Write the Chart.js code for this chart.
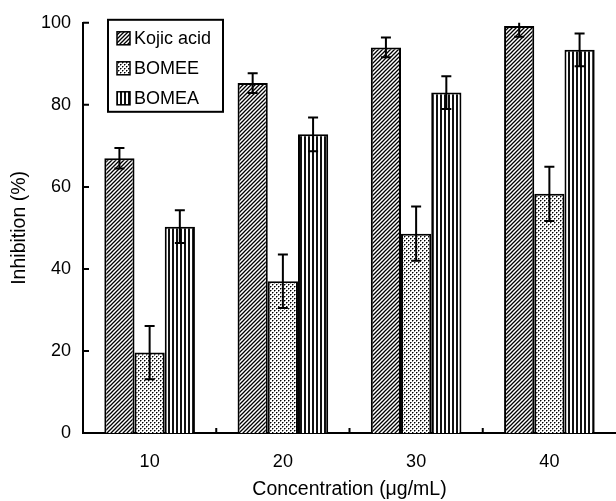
<!DOCTYPE html>
<html>
<head>
<meta charset="utf-8">
<script src="https://cdn.jsdelivr.net/npm/chart.js@4.4.1/dist/chart.umd.min.js"></script>
<style>
  html, body { margin: 0; padding: 0; background: #fff; }
  #wrap { width: 616px; height: 501px; }
</style>
</head>
<body>
<div id="wrap"><canvas id="chart"></canvas></div>
<script>
// data
const categories = ['10', '20', '30', '40'];
const kojic = [67.0, 85.3, 94.0, 99.2];
const kojicErr = [2.5, 2.4, 2.4, 2.6];
const bomee = [19.6, 37.0, 48.6, 58.3];
const bomeeErr = [6.5, 6.5, 6.6, 6.6];
const bomea = [50.3, 72.8, 83.0, 93.4];
const bomeaErr = [4.0, 4.1, 4.0, 4.0];
const yTicks = [0, 20, 40, 60, 80, 100];

Chart.defaults.font.family = '"Liberation Sans", Arial, sans-serif';
Chart.defaults.color = '#000';

// fill patterns
function makePattern(kind) {
  const c = document.createElement('canvas');
  const g = c.getContext('2d');
  if (kind === 'diag') {
    c.width = 4; c.height = 4;
    g.fillStyle = '#fff'; g.fillRect(0, 0, 4, 4);
    g.strokeStyle = '#000'; g.lineWidth = 1.3;
    g.beginPath();
    g.moveTo(0, 4); g.lineTo(4, 0);
    g.moveTo(-1, 1); g.lineTo(1, -1);
    g.moveTo(3, 5); g.lineTo(5, 3);
    g.stroke();
  } else if (kind === 'dots') {
    c.width = 4; c.height = 4;
    g.fillStyle = '#fff'; g.fillRect(0, 0, 4, 4);
    [[0, 0], [2, 2]].forEach(([px, py]) => {
      g.fillStyle = '#000'; g.fillRect(px, py, 1, 1);
      g.fillStyle = '#888'; g.fillRect(px + 1, py, 1, 1); g.fillRect(px, py + 1, 1, 1);
    });
  } else {
    c.width = 4; c.height = 1;
    g.fillStyle = '#fff'; g.fillRect(0, 0, 4, 1);
    g.fillStyle = '#111'; g.fillRect(0, 0, 2, 1);
  }
  return g.createPattern(c, 'repeat');
}

const ctx = document.getElementById('chart').getContext('2d');
const patterns = [makePattern('diag'), makePattern('dots'), makePattern('vert')];
const errors = [kojicErr, bomeeErr, bomeaErr];

// error bars on top of each bar
const errorBars = {
  id: 'errorBars',
  afterDatasetsDraw(chart) {
    const y = chart.scales.y;
    const c = chart.ctx;
    c.save();
    c.strokeStyle = '#000';
    c.lineWidth = 2;
    chart.data.datasets.forEach((ds, i) => {
      chart.getDatasetMeta(i).data.forEach((bar, j) => {
        const v = ds.data[j], e = errors[i][j];
        const hi = Math.min(v + e, y.max);
        const yTop = y.getPixelForValue(hi);
        const yBot = y.getPixelForValue(v - e);
        c.beginPath();
        c.moveTo(bar.x, yTop); c.lineTo(bar.x, yBot);
        if (v + e <= y.max) { c.moveTo(bar.x - 5, yTop); c.lineTo(bar.x + 5, yTop); }
        c.moveTo(bar.x - 5, yBot); c.lineTo(bar.x + 5, yBot);
        c.stroke();
      });
    });
    c.restore();
  }
};

// inward tick marks and the boxed legend
const decorations = {
  id: 'decorations',
  afterDraw(chart) {
    const { left, top, bottom } = chart.chartArea;
    const c = chart.ctx;
    const x = chart.scales.x, y = chart.scales.y;
    c.save();
    c.strokeStyle = '#000';
    c.lineWidth = 2;
    c.beginPath();
    yTicks.forEach(t => {
      const py = y.getPixelForValue(t);
      c.moveTo(left, py); c.lineTo(left + 6, py);
    });
    for (let i = 0; i < categories.length - 1; i++) {
      const px = x.getPixelForValue(i + 0.5);
      c.moveTo(px, bottom); c.lineTo(px, bottom - 5);
    }
    c.stroke();

    // legend
    const bx = left + 25, by = top - 3, bw = 115, bh = 92;
    c.fillStyle = '#fff';
    c.fillRect(bx, by, bw, bh);
    c.strokeRect(bx, by, bw, bh);
    c.font = '18px "Liberation Sans", Arial, sans-serif';
    c.textBaseline = 'middle';
    chart.data.datasets.forEach((ds, i) => {
      const cy = by + 18 + i * 30;
      c.fillStyle = patterns[i];
      c.fillRect(bx + 9, cy - 6, 13, 13);
      c.lineWidth = 1.5;
      c.strokeRect(bx + 9, cy - 6, 13, 13);
      c.fillStyle = '#000';
      c.fillText(ds.label, bx + 26, cy + 1);
    });
    c.restore();
  }
};

new Chart(ctx, {
  type: 'bar',
  data: {
    labels: categories,
    datasets: [
      { label: 'Kojic acid', data: kojic, backgroundColor: patterns[0] },
      { label: 'BOMEE', data: bomee, backgroundColor: patterns[1] },
      { label: 'BOMEA', data: bomea, backgroundColor: patterns[2] }
    ].map(d => Object.assign(d, { borderColor: '#000', borderWidth: 2, borderSkipped: 'bottom' }))
  },
  options: {
    responsive: true,
    maintainAspectRatio: false,
    animation: false,
    layout: { padding: { top: 18, left: 0, right: 0, bottom: 0 } },
    datasets: { bar: { categoryPercentage: 0.68, barPercentage: 1.0 } },
    plugins: {
      legend: { display: false },
      tooltip: { enabled: false }
    },
    scales: {
      x: {
        grid: { display: false, drawTicks: false },
        border: { display: true, color: '#000', width: 2 },
        ticks: { font: { size: 18 }, padding: 18 },
        title: { display: true, text: 'Concentration (μg/mL)', font: { size: 19.5 }, padding: { top: 4, bottom: 0 } },
        afterFit(scale) { scale.height = 68; }
      },
      y: {
        min: 0,
        max: 100,
        grid: { display: false, drawTicks: false },
        border: { display: true, color: '#000', width: 2 },
        ticks: { stepSize: 20, font: { size: 18 }, padding: 12 },
        title: { display: true, text: 'Inhibition (%)', font: { size: 19.5 }, padding: { top: 8, bottom: 4 } },
        afterFit(scale) { scale.width = 83; }
      }
    }
  },
  plugins: [errorBars, decorations]
});
</script>
</body>
</html>
